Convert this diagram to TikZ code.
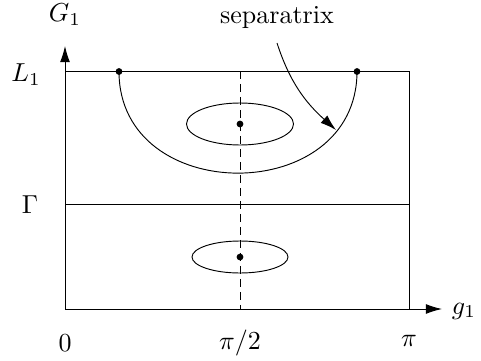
\documentclass[tikz,border=0pt]{standalone}
\usetikzlibrary{arrows.meta}
\begin{document}
\begin{tikzpicture}[x=0.385pt,y=-0.385pt,line width=0.36pt,
  axis/.style={-{Latex[length=6.2pt,width=3.8pt]}},
  pt/.style={circle,fill,inner sep=0pt,minimum size=2.6pt},
  lbl/.style={inner sep=0pt}]
\useasboundingbox (0,0) rectangle (481,360);
% coordinates
\coordinate (O) at (65,309);
\coordinate (Ytip) at (65,46);
\coordinate (Xtip) at (442,309);
\coordinate (TL) at (65,71);
\coordinate (TR) at (409,71);
\coordinate (BR) at (409,309);
\coordinate (GL) at (65,204);
\coordinate (GR) at (409,204);
\coordinate (DT) at (240,71);
\coordinate (DB) at (240,309);
% axes
\draw[axis] (O) -- (Ytip);
\draw[axis] (O) -- (Xtip);
% box lines
\draw (TL) -- (TR) -- (BR);
\draw (GL) -- (GR);
\draw[dash pattern=on 3pt off 2pt] (DT) -- (DB);
% separatrix
\node[pt] (s1) at (119,71.5) {};
\node[pt] (s2) at (357,71.5) {};
\draw (s1.center) .. controls (119,207) and (357,207) .. (s2.center);
% ellipses and centres
\node[pt] (c1) at (240,124) {};
\node[pt] (c2) at (240,257) {};
\draw (c1.center) ellipse [x radius=53.5, y radius=21];
\draw (c2.center) ellipse [x radius=48, y radius=16];
% labels
\node[lbl] (G) at (65,15) {$G_1$};
\node[lbl] (L) at (26,75) {$L_1$};
\node[lbl] (Gam) at (30,205) {$\Gamma$};
\node[lbl] (g) at (464,311) {$g_1$};
\node[lbl] (z) at (65,343) {$0$};
\node[lbl] (pi2) at (240,343) {$\pi/2$};
\node[lbl] (pi) at (409,341) {$\pi$};
\node[lbl] (sep) at (277,17) {separatrix};
\coordinate (a1) at (277,43);
\coordinate (a2) at (336,130);
\draw[axis] (a1) to[out=-72,in=138] (a2);
\end{tikzpicture}
\end{document}
